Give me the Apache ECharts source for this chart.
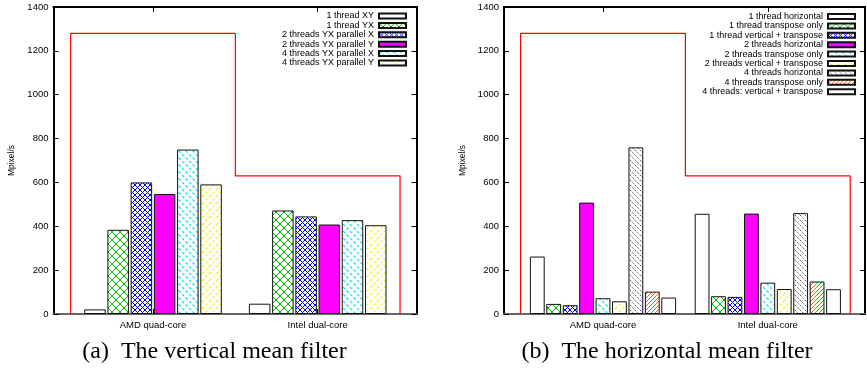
<!DOCTYPE html>
<html>
<head>
<meta charset="utf-8">
<script src="https://cdn.jsdelivr.net/npm/echarts@6/dist/echarts.min.js"></script>
<style>html,body{margin:0;padding:0;background:#fff}#c{width:867px;height:372px}</style>
</head>
<body>
<div id="c"></div>
<script>
// ---------- data ----------
const categories = ['AMD quad-core', 'Intel dual-core'];
const yTicks = [0, 200, 400, 600, 800, 1000, 1200, 1400];

// (a) vertical mean filter
const namesA = ['1 thread XY', '1 thread YX', '2 threads YX parallel X', '2 threads YX parallel Y', '4 threads YX parallel X', '4 threads YX parallel Y'];
const thread1XY = [21, 47];
const thread1YX = [384, 472];
const threads2X = [600, 445];
const threads2Y = [547, 408];
const threads4X = [750, 428];
const threads4Y = [591, 405];

// (b) horizontal mean filter
const namesB = ['1 thread horizontal', '1 thread transpose only', '1 thread vertical + transpose', '2 threads horizontal', '2 threads transpose only', '2 threads vertical + transpose', '4 threads horizontal', '4 threads transpose only', '4 threads: vertical + transpose'];
const h1 = [262, 457];
const t1 = [46, 81];
const vt1 = [40, 78];
const h2 = [508, 458];
const t2 = [72, 143];
const vt2 = [58, 114];
const h4 = [760, 460];
const t4 = [102, 148];
const vt4 = [75, 113];

// red outline (peak bandwidth) per category, category edges at +-0.5
const peak = [1280, 630];
const edges = [-0.5, 0.5, 1.5];

const captions = ['(a)  The vertical mean filter', '(b)  The horizontal mean filter'];

// ---------- patterns ----------
function pat(size, draw) {
  const c = document.createElement('canvas');
  c.width = size; c.height = size;
  const ctx = c.getContext('2d');
  ctx.fillStyle = '#fff'; ctx.fillRect(0, 0, size, size);
  draw(ctx, size);
  return { image: c, repeat: 'repeat' };
}
function diag(ctx, s, dir) {
  for (let k = -1; k <= 1; k++) {
    ctx.beginPath();
    if (dir > 0) { ctx.moveTo(k * s, s); ctx.lineTo(k * s + s, 0); }
    else { ctx.moveTo(k * s, 0); ctx.lineTo(k * s + s, s); }
    ctx.stroke();
  }
}
const P = {
  empty: '#fff',
  green: pat(8, (c, s) => { c.strokeStyle = '#00d000'; c.lineWidth = 1; diag(c, s, 1); diag(c, s, -1); c.fillStyle='#00b000'; c.fillRect(3,3,2,2); }),
  blue: pat(5, (c, s) => { c.strokeStyle = '#0000ff'; c.lineWidth = 1; diag(c, s, 1); diag(c, s, -1); }),
  magenta: '#ff00ff',
  cyan: pat(7, (c, s) => { c.strokeStyle = '#00e6e6'; c.lineWidth = 1.2; c.setLineDash([3, 2]); diag(c, s, -1); }),
  yellow: pat(7, (c, s) => { c.strokeStyle = '#f0f000'; c.lineWidth = 1.2; c.setLineDash([2, 2]); diag(c, s, 1); }),
  black: pat(5, (c, s) => { c.strokeStyle = '#000'; c.lineWidth = 0.9; c.setLineDash([1, 1.5]); diag(c, s, -1); }),
  orange: pat(4, (c, s) => { c.strokeStyle = '#ff5a1a'; c.lineWidth = 1; diag(c, s, 1); })
};

const FONT = 'Liberation Sans';
const axisBlack = { show: true, onZero: false, lineStyle: { color: '#000', width: 2 } };

function frameAxes(g) {
  return {
    x: [
      { gridIndex: g, type: 'value', min: 0, max: 1, position: 'bottom', axisLine: { show: true, onZero: false, lineStyle: { color: '#666', width: 2 } }, axisTick: { show: false }, axisLabel: { show: false }, splitLine: { show: false } },
      { gridIndex: g, type: 'value', min: 0, max: 1, position: 'top', axisLine: axisBlack, axisTick: { show: false }, axisLabel: { show: false }, splitLine: { show: false } }
    ],
    y: [
      { gridIndex: g, type: 'value', min: 0, max: 1400, interval: 200, position: 'left', axisLine: axisBlack,
        axisTick: { show: true, inside: true, length: 5, lineStyle: { color: '#000', width: 1 } },
        axisLabel: { show: true, margin: 5, color: '#000', fontSize: 9.5, fontFamily: FONT, formatter: v => yTicks.includes(v) ? String(v) : '' },
        splitLine: { show: false },
        name: 'Mpixel/s', nameLocation: 'middle', nameGap: 37, nameTextStyle: { fontSize: 8.5, fontFamily: FONT, color: '#000' } },
      { gridIndex: g, type: 'value', min: 0, max: 1400, interval: 200, position: 'right', axisLine: axisBlack,
        axisTick: { show: true, inside: true, length: 5, lineStyle: { color: '#000', width: 1 } },
        axisLabel: { show: false }, splitLine: { show: false } }
    ]
  };
}
function innerAxes(g) {
  return {
    x: [
      { gridIndex: g, type: 'category', data: categories, position: 'bottom', axisLine: { show: false, onZero: false },
        axisTick: { show: true, inside: true, alignWithLabel: true, length: 5, lineStyle: { color: '#000' } },
        axisLabel: { margin: 6, color: '#000', fontSize: 9.5, fontFamily: FONT } },
      { gridIndex: g, type: 'category', data: categories, position: 'top', axisLine: { show: false, onZero: false },
        axisTick: { show: true, inside: true, alignWithLabel: true, length: 5, lineStyle: { color: '#000' } },
        axisLabel: { show: false } },
      { gridIndex: g, type: 'value', min: edges[0], max: edges[2], show: false }
    ],
    y: [
      { gridIndex: g, type: 'value', min: 0, max: 1400, interval: 200, show: false }
    ]
  };
}

const xAxis = [], yAxis = [];
const fa = frameAxes(0), ia = innerAxes(1), fb = frameAxes(2), ib = innerAxes(3);
[fa, ia, fb, ib].forEach(a => { xAxis.push(...a.x); yAxis.push(...a.y); });

function redLine(xi, yi) {
  return {
    type: 'line', xAxisIndex: xi, yAxisIndex: yi, symbol: 'none', silent: true, clip: false, z: 1,
    lineStyle: { color: '#ff0000', width: 1.2 },
    data: [[edges[0], 0], [edges[0], peak[0]], [edges[1], peak[0]], [edges[1], peak[1]], [edges[2], peak[1]], [edges[2], 0]]
  };
}

const valsA = [thread1XY, thread1YX, threads2X, threads2Y, threads4X, threads4Y];
const fillA = [P.empty, P.green, P.blue, P.magenta, P.cyan, P.yellow];
const valsB = [h1, t1, vt1, h2, t2, vt2, h4, t4, vt4];
const fillB = [P.empty, P.green, P.blue, P.magenta, P.cyan, P.yellow, P.black, P.orange, P.empty];

const series = [redLine(4, 2), redLine(9, 5)];
valsA.forEach((v, i) => series.push({
  type: 'bar', name: namesA[i], xAxisIndex: 2, yAxisIndex: 2, data: v, barWidth: 21.5, barGap: '8%', z: 3,
  itemStyle: { color: fillA[i], borderColor: '#111', borderWidth: 1 }
}));
valsB.forEach((v, i) => series.push({
  type: 'bar', name: namesB[i], xAxisIndex: 7, yAxisIndex: 5, data: v, barWidth: 14.8, barGap: '11%', z: 3,
  itemStyle: { color: fillB[i], borderColor: '#111', borderWidth: 1 }
}));

const legendCommon = {
  orient: 'vertical', align: 'right', icon: 'rect', itemWidth: 27, itemHeight: 5, itemGap: 0.4,
  selectedMode: false, padding: 0,
  textStyle: { fontSize: 9, lineHeight: 9, fontFamily: FONT, color: '#000' }
};

const option = {
  animation: false,
  backgroundColor: '#fff',
  grid: [
    { left: 53.5, top: 7, width: 363, height: 307 },
    { left: 70.65, top: 7, width: 329.4, height: 307 },
    { left: 504, top: 7, width: 361, height: 307 },
    { left: 520.6, top: 7, width: 329.6, height: 307 }
  ],
  xAxis, yAxis, series,
  legend: [
    Object.assign({}, legendCommon, { data: namesA, right: 460, top: 11.5 }),
    Object.assign({}, legendCommon, { data: namesB, right: 11, top: 12 })
  ],
  graphic: [
    { type: 'text', x: 214.5, y: 352, style: { text: captions[0], font: '24px "Liberation Serif"', fill: '#000', align: 'center', verticalAlign: 'middle' } },
    { type: 'text', x: 667, y: 352, style: { text: captions[1], font: '24px "Liberation Serif"', fill: '#000', align: 'center', verticalAlign: 'middle' } }
  ]
};

const chart = echarts.init(document.getElementById('c'), null, { renderer: 'canvas' });
chart.setOption(option);
</script>
</body>
</html>
